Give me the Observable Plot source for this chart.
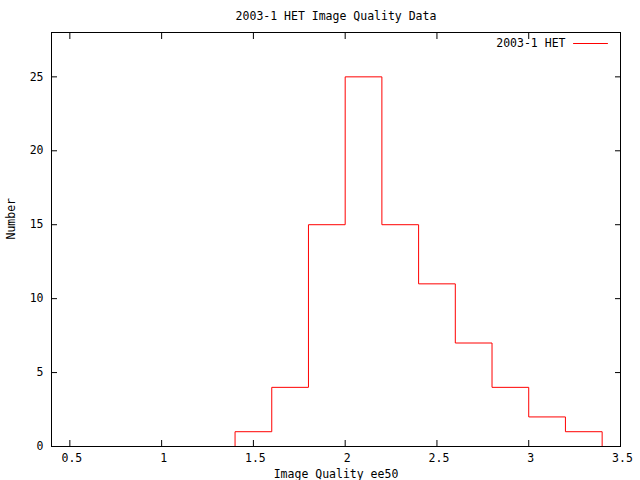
<!DOCTYPE html>
<html><head><meta charset="utf-8">
<script src="https://cdn.jsdelivr.net/npm/d3@7"></script>
<script src="https://cdn.jsdelivr.net/npm/@observablehq/plot@0.6"></script>
<style>html,body{margin:0;padding:0;background:#fff;}</style>
</head><body><div id="chart"></div>
<script>
const binEdges = [1.4, 1.6, 1.8, 2.0, 2.2, 2.4, 2.6, 2.8, 3.0, 3.2, 3.4];
const counts = [1, 4, 15, 25, 15, 11, 7, 4, 2, 1];
const xTicks = [0.5, 1, 1.5, 2, 2.5, 3, 3.5];
const yTicks = [0, 5, 10, 15, 20, 25];
const titleText = "2003-1 HET Image Quality Data";
const seriesName = "2003-1 HET";
const xLabel = "Image Quality ee50";
const yLabel = "Number";

const n = counts.length;
const steps = [{x: binEdges[0], y: 0}]
  .concat(counts.map((c, i) => ({x: binEdges[i], y: c})))
  .concat([{x: binEdges[n], y: counts[n - 1]}, {x: binEdges[n], y: 0}]);

const lineShape = {draw(context, l) { context.moveTo(0, 0); context.lineTo(0, -l); }};

const chart = Plot.plot({
  width: 640, height: 480,
  marginLeft: 51, marginRight: 20, marginTop: 32, marginBottom: 34,
  style: {fontFamily: "DejaVu Sans Mono", fontSize: "11.5px", background: "white", color: "black"},
  x: {domain: [0.4, 3.5], label: null},
  y: {domain: [0, 28], label: null},
  marks: [
    Plot.axisX(xTicks, {anchor: "bottom", tickSize: 0, tickPadding: 7, dx: 2, label: null, tickFormat: d => String(d)}),
    Plot.axisX(xTicks, {anchor: "bottom", tickSize: -6, fill: "none", label: null}),
    Plot.axisX(xTicks, {anchor: "top", tickSize: -6, fill: "none", label: null}),
    Plot.axisY(yTicks, {anchor: "left", tickSize: 0, tickPadding: 8, label: null, tickFormat: d => String(d)}),
    Plot.axisY(yTicks, {anchor: "left", tickSize: -6, fill: "none", label: null}),
    Plot.axisY(yTicks, {anchor: "right", tickSize: -6, fill: "none", label: null}),
    Plot.line(steps, {x: "x", y: "y", curve: "step-after", stroke: "#ff0000", strokeWidth: 1}),
    Plot.frame({stroke: "black"}),
    Plot.text([titleText], {frameAnchor: "top", dy: -16.5, lineAnchor: "middle"}),
    Plot.text([xLabel], {frameAnchor: "bottom", dy: 28, lineAnchor: "middle"}),
    Plot.text([yLabel], {frameAnchor: "left", dx: -40, rotate: -90, lineAnchor: "middle"}),
    Plot.text([seriesName], {frameAnchor: "top-right", dx: -55, dy: 10.5, textAnchor: "end", lineAnchor: "middle"}),
    Plot.vector([seriesName], {frameAnchor: "top-right", dx: -13, dy: 11, rotate: -90, length: 34, anchor: "start", shape: lineShape, stroke: "#ff0000", strokeWidth: 1})
  ]
});
document.getElementById("chart").appendChild(chart);
</script>
</body></html>
